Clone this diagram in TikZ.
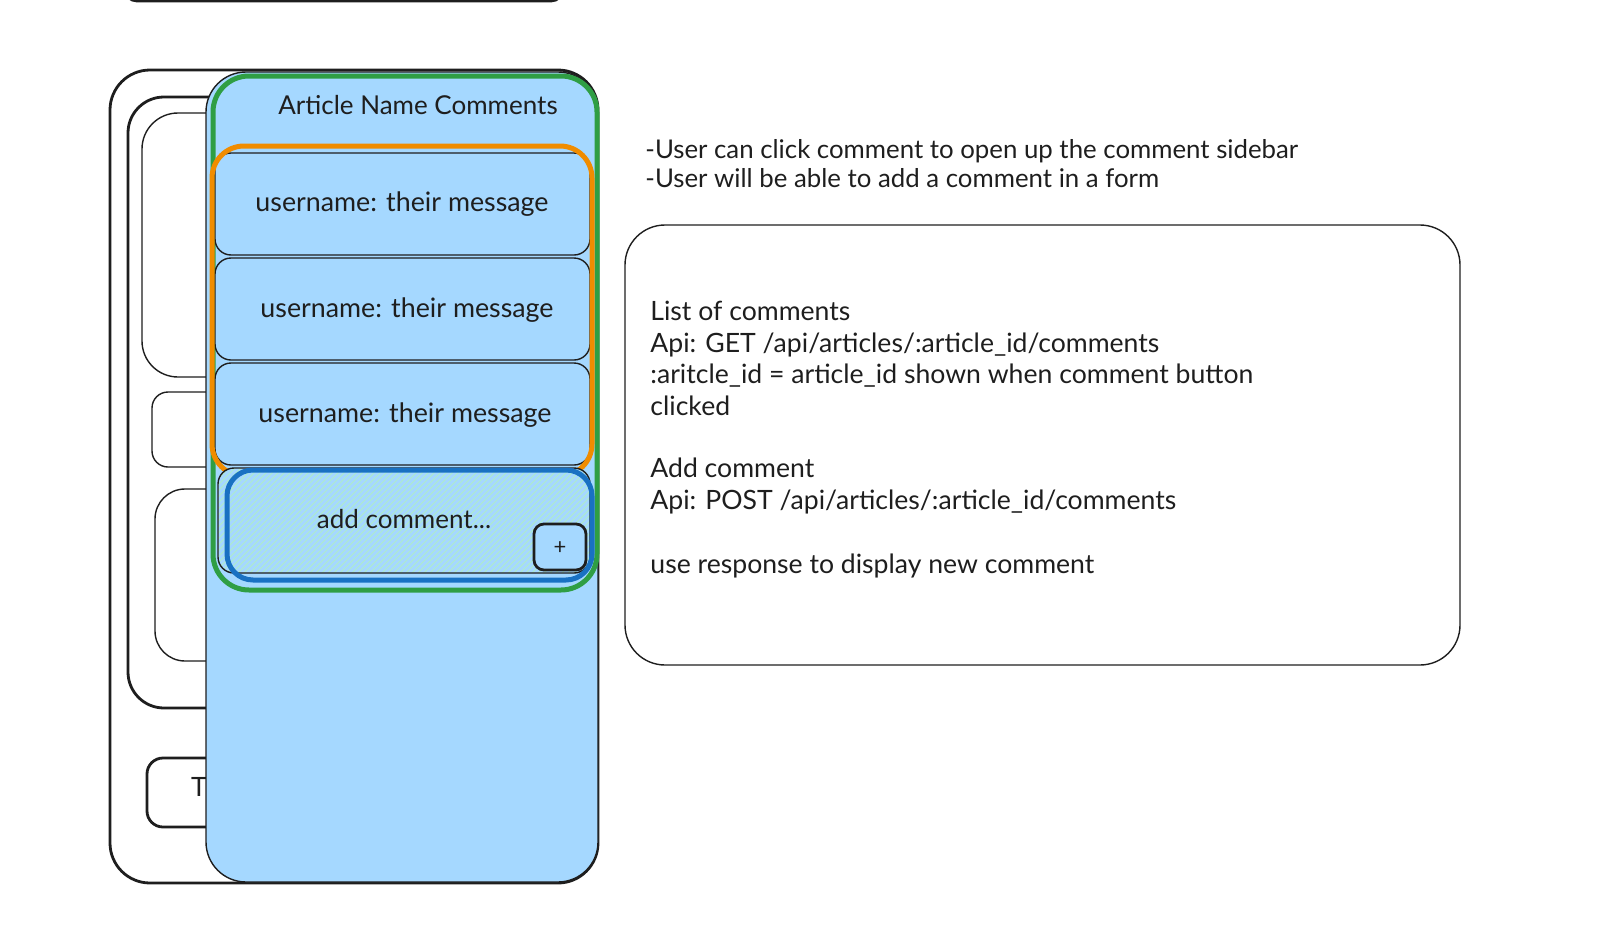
\documentclass[tikz,border=0pt]{standalone}
\usepackage{fontspec}
\setmainfont{Lato}
\usetikzlibrary{patterns}
\definecolor{inkblack}{HTML}{1E1E1E}
\definecolor{panelblue}{HTML}{A5D8FF}
\definecolor{framegreen}{HTML}{2F9E44}
\definecolor{frameorange}{HTML}{F08C00}
\definecolor{frameblue}{HTML}{1971C2}
\definecolor{hatchgreen}{HTML}{B2F2BB}

\begin{document}
\begin{tikzpicture}[
    x=0.5pt, y=-0.5pt,
    ink/.style={draw=inkblack, line width=1.4pt},
    thinink/.style={draw=inkblack, line width=0.7pt},
    hilite/.style={line width=2.5pt},
    handtext/.style={text=inkblack, inner sep=0pt, font=\fontsize{13.3}{16}\selectfont},
    paneltext/.style={handtext, font=\fontsize{13.4}{16}\selectfont}
  ]
  \useasboundingbox (0,0) rectangle (1611,937);

  % box cut off at the top
  \draw[ink, rounded corners=6pt] (125,-14) -- (125,1) -- (563,1) -- (563,-14);

  % page behind the sidebar
  \draw[ink, fill=white, rounded corners=20pt] (110,70) rectangle (598,883);
  \draw[ink, rounded corners=18pt] (128,97) rectangle (320,708);
  \draw[thinink, rounded corners=18pt] (142,113) rectangle (320,377);
  \draw[thinink, rounded corners=8pt] (152,392) rectangle (320,467);
  \draw[thinink, rounded corners=15pt] (155,489) rectangle (320,661);
  \draw[ink, rounded corners=8pt] (147,758) rectangle (320,827);
  \node[handtext] (tlabel) at (199,787) {T};

  % comment sidebar
  \draw[thinink, fill=panelblue, rounded corners=20pt] (206,72) rectangle (598,882);
  \draw[framegreen, hilite, rounded corners=18pt] (213,76) rectangle (597,590);
  \node[handtext, font=\fontsize{13}{15}\selectfont] (title) at (418,105) {Article Name Comments};

  % comments
  \draw[thinink, fill=panelblue, rounded corners=8pt] (215,153) rectangle (590,255);
  \draw[thinink, fill=panelblue, rounded corners=8pt] (215,258) rectangle (590,360);
  \draw[thinink, fill=panelblue, rounded corners=8pt] (215,363) rectangle (590,465);
  \node[paneltext] (msga) at (402,204) {username: their message};
  \node[paneltext] (msgb) at (407,310) {username: their message};
  \node[paneltext] (msgc) at (405,415) {username: their message};
  \draw[frameorange, hilite, rounded corners=16pt] (212,146) rectangle (592,476);

  % comment form
  \fill[panelblue, rounded corners=8pt] (218,468) rectangle (590,573);
  \fill[pattern=north east lines, pattern color=hatchgreen!80!panelblue, rounded corners=8pt] (218,468) rectangle (590,573);
  \draw[thinink, rounded corners=8pt] (218,468) rectangle (590,573);
  \draw[frameblue, hilite, rounded corners=13pt] (227,470) rectangle (592,580);
  \node[handtext, font=\fontsize{13}{15}\selectfont] (addtext) at (404,519) {add comment...};
  \draw[ink, fill=panelblue, rounded corners=5pt] (534,524) rectangle (586,570);
  \node[handtext, font=\fontsize{11}{12}\selectfont] (plus) at (560,548) {+};

  % notes
  \node[handtext, font=\fontsize{12.9}{15}\selectfont, anchor=base west] (noteA) at (645,158) {-User can click comment to open up the comment sidebar};
  \node[handtext, font=\fontsize{12.9}{15}\selectfont, anchor=base west] (noteB) at (645,187) {-User will be able to add a comment in a form};

  % api box
  \draw[thinink, rounded corners=20pt] (625,225) rectangle (1460,665);
  \node[handtext, anchor=base west] (listhead) at (650,320) {List of comments};
  \node[handtext, anchor=base west] (getline) at (650,352) {Api: GET /api/articles/:article\_id/comments};
  \node[handtext, anchor=base west] (idline) at (650,383) {:aritcle\_id = article\_id shown when comment button};
  \node[handtext, anchor=base west] (clickline) at (650,415) {clicked};
  \node[handtext, anchor=base west] (addhead) at (650,477) {Add comment};
  \node[handtext, anchor=base west] (postline) at (650,509) {Api: POST /api/articles/:article\_id/comments};
  \node[handtext, anchor=base west] (useline) at (650,573) {use response to display new comment};
\end{tikzpicture}
\end{document}
